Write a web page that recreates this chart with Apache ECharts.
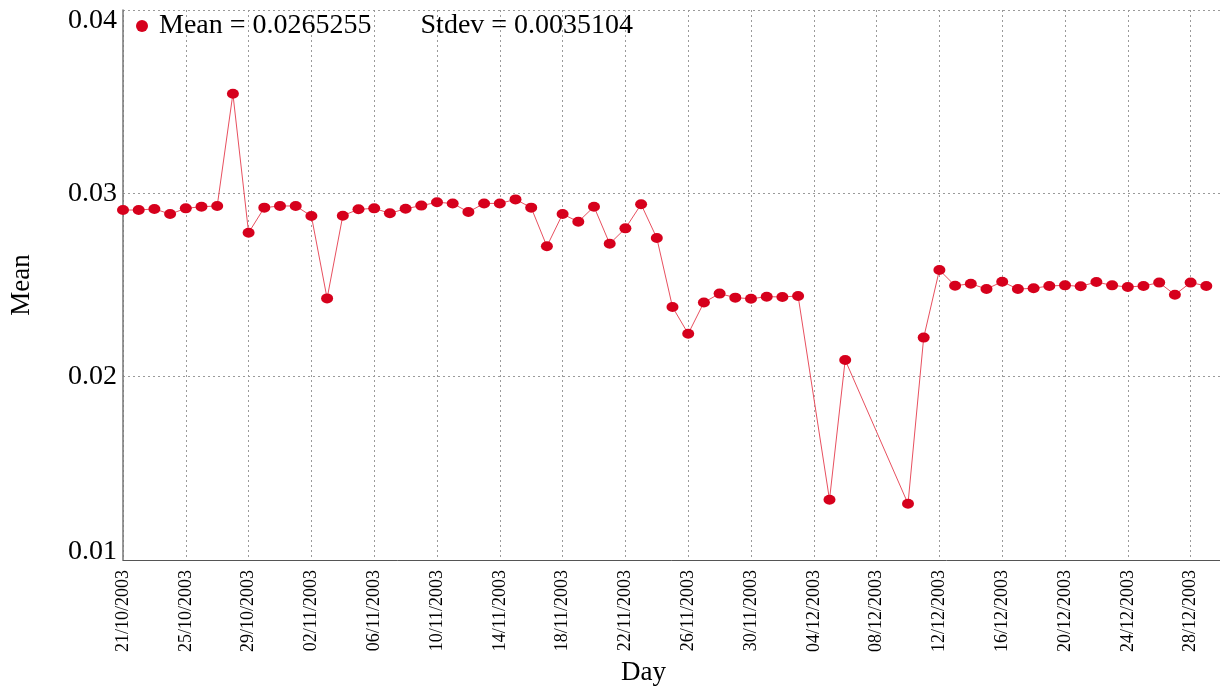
<!DOCTYPE html>
<html>
<head>
<meta charset="utf-8">
<title>Mean per day</title>
<script src="https://cdn.jsdelivr.net/npm/echarts@6/dist/echarts.min.js"></script>
<style>
  html, body { margin: 0; padding: 0; background: #fff; }
  #chart { width: 1220px; height: 689px; }
</style>
</head>
<body>
<div id="chart"></div>
<script>
// days that have a measurement (dd/MM/yyyy)
const days = [
  '21/10/2003', '22/10/2003', '23/10/2003', '24/10/2003', '25/10/2003', '26/10/2003',
  '27/10/2003', '28/10/2003', '29/10/2003', '30/10/2003', '31/10/2003',
  '01/11/2003', '02/11/2003', '03/11/2003', '04/11/2003', '05/11/2003', '06/11/2003',
  '07/11/2003', '08/11/2003', '09/11/2003', '10/11/2003', '11/11/2003', '12/11/2003',
  '13/11/2003', '14/11/2003', '15/11/2003', '16/11/2003', '17/11/2003', '18/11/2003',
  '19/11/2003', '20/11/2003', '21/11/2003', '22/11/2003', '23/11/2003', '24/11/2003',
  '25/11/2003', '26/11/2003', '27/11/2003', '28/11/2003', '29/11/2003', '30/11/2003',
  '01/12/2003', '02/12/2003', '03/12/2003', '05/12/2003', '06/12/2003',
  '10/12/2003', '11/12/2003', '12/12/2003', '13/12/2003', '14/12/2003', '15/12/2003',
  '16/12/2003', '17/12/2003', '18/12/2003', '19/12/2003', '20/12/2003', '21/12/2003',
  '22/12/2003', '23/12/2003', '24/12/2003', '25/12/2003', '26/12/2003', '27/12/2003',
  '28/12/2003', '29/12/2003'
]

// daily mean, same order as days
const means = [
  0.02909, 0.02909, 0.02915, 0.02887, 0.02918, 0.02927,
  0.02931, 0.03543, 0.02785, 0.02922, 0.02931,
  0.02931, 0.02876, 0.02427, 0.02878, 0.02913, 0.02918,
  0.02891, 0.02916, 0.02933, 0.02951, 0.02945, 0.02898,
  0.02945, 0.02945, 0.02967, 0.02922, 0.02711, 0.02887,
  0.02845, 0.02927, 0.02725, 0.02809, 0.02940, 0.02756,
  0.02380, 0.02234, 0.02405, 0.02453, 0.02431, 0.02425,
  0.02436, 0.02435, 0.02440, 0.01329, 0.02091,
  0.01307, 0.02213, 0.02582, 0.02496, 0.02507, 0.02478,
  0.02518, 0.02478, 0.02482, 0.02495, 0.02498, 0.02493,
  0.02516, 0.02498, 0.02489, 0.02495, 0.02513, 0.02447,
  0.02513, 0.02495
]

const meanText = 'Mean = 0.0265255'
const stdevText = 'Stdev = 0.0035104'

// x axis: first labelled day, last day of the range, label step in days
const firstDay = '21/10/2003'
const lastDay = '30/12/2003'
const labelStepDays = 4

// y axis ticks
const yMin = 0.01
const yMax = 0.04
const yStep = 0.01

const DAY_MS = 86400000
const toTime = s => {
  const [d, m, y] = s.split('/').map(Number)
  return Date.UTC(y, m - 1, d)
}
const t0 = toTime(firstDay)
const dayIndex = s => Math.round((toTime(s) - t0) / DAY_MS)
const pad = n => (n < 10 ? '0' : '') + n
const dayLabel = v => {
  const dt = new Date(t0 + v * DAY_MS)
  return pad(dt.getUTCDate()) + '/' + pad(dt.getUTCMonth() + 1) + '/' + dt.getUTCFullYear()
}

const serif = '"Liberation Serif", "DejaVu Serif", serif'
const gridLine = { show: true, lineStyle: { color: '#9a9a9a', type: [2, 3], width: 1 } }
const yLabelFont = { fontFamily: serif, fontSize: 28, color: '#000' }

const chart = echarts.init(document.getElementById('chart'))

const option = {
  animation: false,
  backgroundColor: '#fff',
  grid: {
    left: 123,
    right: -2,
    top: 10,
    bottom: 129,
    outerBoundsMode: 'none'
  },
  legend: {
    left: 131,
    top: 7,
    icon: 'circle',
    itemWidth: 12,
    itemHeight: 12,
    data: [meanText],
    formatter: name => name + '       ' + stdevText,
    textStyle: { fontFamily: serif, fontSize: 28, color: '#000', padding: [0, 0, 0, 6] }
  },
  xAxis: {
    type: 'value',
    min: 0,
    max: dayIndex(lastDay),
    interval: labelStepDays,
    name: 'Day',
    nameLocation: 'middle',
    nameGap: 97,
    nameTextStyle: { fontFamily: serif, fontSize: 27, color: '#000', padding: [0, 58, 0, 0] },
    axisLine: { show: true, lineStyle: { color: '#555', width: 1 } },
    axisTick: { show: false },
    splitLine: gridLine,
    axisLabel: {
      rotate: 90,
      margin: 10,
      fontFamily: serif,
      fontSize: 18,
      color: '#000',
      showMaxLabel: false,
      formatter: v => dayLabel(v)
    }
  },
  yAxis: {
    type: 'value',
    min: yMin,
    max: yMax,
    interval: yStep,
    name: 'Mean',
    nameLocation: 'middle',
    nameRotate: 90,
    nameGap: 88,
    nameTextStyle: { fontFamily: serif, fontSize: 27, color: '#000' },
    axisLine: { show: true, lineStyle: { color: '#777', width: 1.5 } },
    axisTick: { show: false },
    splitLine: gridLine,
    axisLabel: Object.assign({
      margin: 6,
      // the end labels are pushed inside the plot, as in the original
      formatter: v => {
        if (Math.abs(v - yMax) < 1e-9) return '{top|' + v + '}'
        if (Math.abs(v - yMin) < 1e-9) return '{bot|' + v + '}'
        return '' + v
      },
      rich: {
        top: Object.assign({ padding: [21, 0, 0, 0] }, yLabelFont),
        bot: Object.assign({ padding: [0, 0, 17, 0] }, yLabelFont)
      }
    }, yLabelFont)
  },
  series: [{
    name: meanText,
    type: 'line',
    data: days.map((d, i) => [dayIndex(d), means[i]]),
    symbol: 'circle',
    symbolSize: [12, 10],
    itemStyle: { color: '#d6001c' },
    lineStyle: { color: '#e8505f', width: 1 },
    z: 3
  }]
}

chart.setOption(option)
</script>
</body>
</html>
